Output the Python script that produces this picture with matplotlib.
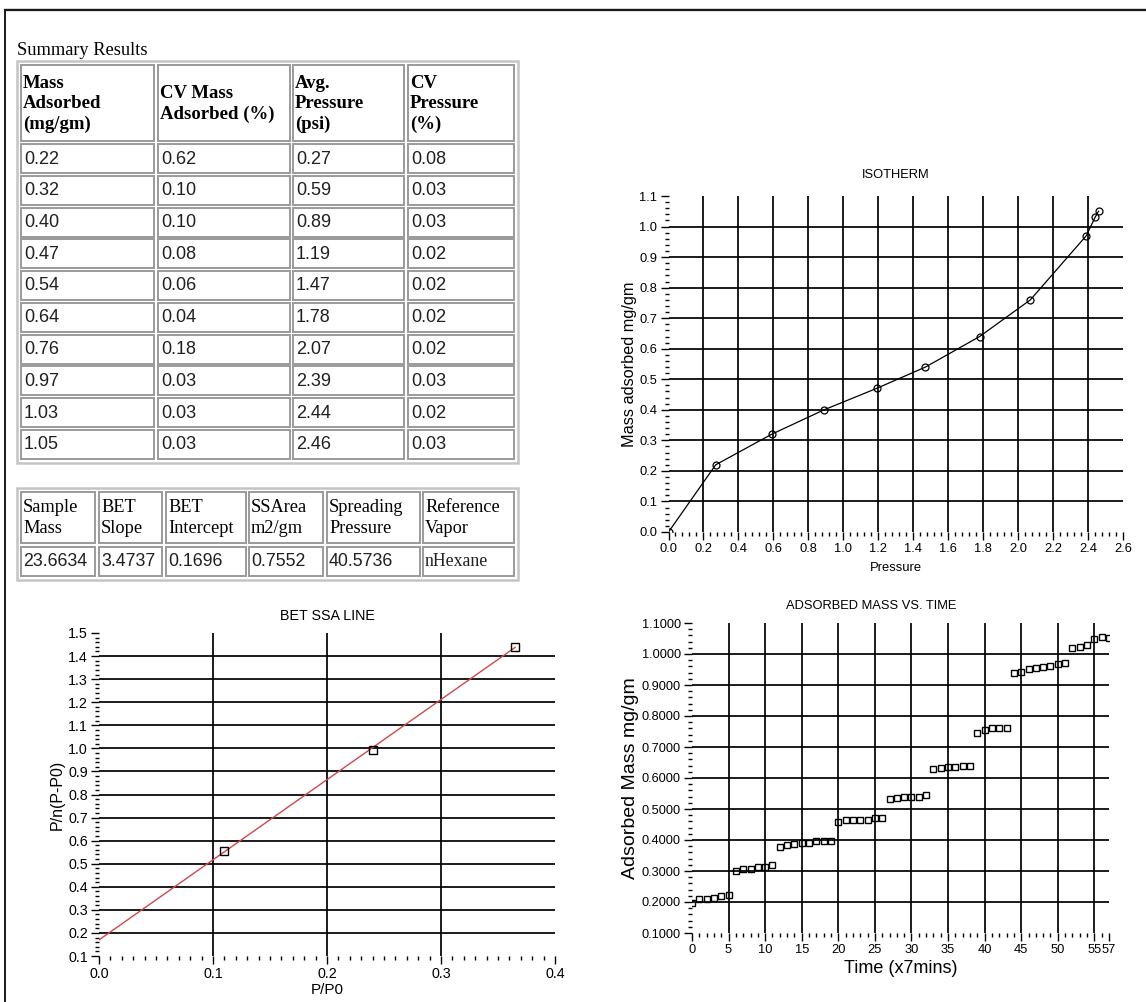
import matplotlib.pyplot as plt
import numpy as np
from matplotlib.patches import Rectangle
from matplotlib.ticker import MultipleLocator

SANS = 'Liberation Sans'
SERIF = 'Liberation Serif'

# Summary results table
mass_adsorbed = [0.22, 0.32, 0.40, 0.47, 0.54, 0.64, 0.76, 0.97, 1.03, 1.05]
cv_mass = [0.62, 0.10, 0.10, 0.08, 0.06, 0.04, 0.18, 0.03, 0.03, 0.03]
avg_pressure = [0.27, 0.59, 0.89, 1.19, 1.47, 1.78, 2.07, 2.39, 2.44, 2.46]
cv_pressure = [0.08, 0.03, 0.03, 0.02, 0.02, 0.02, 0.02, 0.03, 0.02, 0.03]
summary_headers = ['Mass\nAdsorbed\n(mg/gm)', 'CV Mass\nAdsorbed (%)',
                   'Avg.\nPressure\n(psi)', 'CV\nPressure\n(%)']

# BET parameters
bet_headers = ['Sample\nMass', 'BET\nSlope', 'BET\nIntercept', 'SSArea\nm2/gm',
               'Spreading\nPressure', 'Reference\nVapor']
sample_mass = 23.6634
bet_slope = 3.4737
bet_intercept = 0.1696
ss_area = 0.7552
spreading_pressure = 40.5736
reference_vapor = 'nHexane'

# BET line points
p_p0 = [0.11, 0.24, 0.365]
bet_y = [0.555, 0.995, 1.44]

# adsorbed mass per 7 minute interval
time_steps = list(range(58))
mass_vs_time = [0.197, 0.209, 0.209, 0.213, 0.218, 0.222,
                0.301, 0.305, 0.305, 0.314, 0.314, 0.318,
                0.379, 0.384, 0.388, 0.391, 0.391, 0.396, 0.396, 0.396,
                0.458, 0.463, 0.463, 0.466, 0.466, 0.471, 0.471,
                0.532, 0.536, 0.540, 0.540, 0.540, 0.545,
                0.628, 0.633, 0.636, 0.636, 0.640, 0.640,
                0.746, 0.755, 0.760, 0.760, 0.762,
                0.938, 0.942, 0.951, 0.955, 0.959, 0.961, 0.968, 0.972,
                1.020, 1.024, 1.029, 1.047, 1.056, 1.051]

W, H = 1146, 1002
fig = plt.figure(figsize=(W / 100, H / 100), dpi=100)
fig.patch.set_facecolor('white')

# page layer in pixel units
bg = fig.add_axes([0, 0, 1, 1])
bg.set_xlim(0, W)
bg.set_ylim(H, 0)
bg.axis('off')

bg.plot([5, W], [8.5, 8.5], color='#a0a0a0', lw=1.0)
bg.plot([5, W], [10, 10], color='#1a1a1a', lw=1.6)
bg.plot([5, 5], [10, H], color='#1a1a1a', lw=1.4)


def cell(x0, y0, x1, y1):
    bg.add_patch(Rectangle((x0, y0), x1 - x0, y1 - y0, fill=False,
                           edgecolor='#9a9a9a', lw=1.4))


def outer(x0, y0, x1, y1):
    bg.add_patch(Rectangle((x0, y0), x1 - x0, y1 - y0, fill=False,
                           edgecolor='#c4c4c4', lw=1.8))


bg.text(17, 50, 'Summary Results', family=SERIF, fontsize=13.2,
        va='center', ha='left')

# summary table
outer(17, 61, 518, 463)
cols1 = [(21, 154), (158, 290), (293, 404), (408, 514)]
for (x0, x1), head in zip(cols1, summary_headers):
    cell(x0, 65, x1, 141)
    bg.text(x0 + 2, 104, head, family=SERIF, fontsize=13.5, weight='bold',
            va='center', ha='left', linespacing=1.22)
columns = [mass_adsorbed, cv_mass, avg_pressure, cv_pressure]
for i in range(len(mass_adsorbed)):
    top = 144 + 31.75 * i
    for (x0, x1), col in zip(cols1, columns):
        cell(x0, top, x1, top + 29)
        bg.text(x0 + 3, top + 15, f'{col[i]:.2f}', family=SANS, fontsize=13,
                va='center', ha='left', color='#202020')

# BET summary table
outer(17, 488, 518, 580)
cols2 = [(21, 95), (99, 162), (166, 246), (249, 323), (327, 420), (423, 514)]
bet_values = [f'{sample_mass:.4f}', f'{bet_slope:.4f}', f'{bet_intercept:.4f}',
              f'{ss_area:.4f}', f'{spreading_pressure:.4f}', reference_vapor]
for (x0, x1), head, val in zip(cols2, bet_headers, bet_values):
    cell(x0, 492, x1, 543)
    cell(x0, 547, x1, 576)
    bg.text(x0 + 2, 518, head, family=SERIF, fontsize=13.2,
            va='center', ha='left', linespacing=1.3)
    fam = SERIF if val == reference_vapor else SANS
    bg.text(x0 + 2, 562, val, family=fam, fontsize=12.8,
            va='center', ha='left', color='#202020')


def frame_axes(rect_px):
    x0, y0, x1, y1 = rect_px
    ax = fig.add_axes([x0 / W, 1 - y1 / H, (x1 - x0) / W, (y1 - y0) / H])
    ax.set_facecolor('none')
    for s in ax.spines.values():
        s.set_visible(False)
    ax.xaxis.set_ticks_position('bottom')
    ax.yaxis.set_ticks_position('left')
    ax.tick_params(which='major', direction='out', length=6, width=1.0,
                   color='black', pad=2)
    ax.tick_params(which='minor', direction='out', length=3, width=1.0,
                   color='black')
    return ax


def inner_grid(ax, xticks, yticks):
    for v in xticks[1:-1]:
        ax.axvline(v, color='black', lw=1.25, zorder=1)
    for v in yticks[1:-1]:
        ax.axhline(v, color='black', lw=1.25, zorder=1)


# ISOTHERM
ax1 = frame_axes((668.5, 196, 1123, 532))
iso_x = [0.0] + avg_pressure
iso_y = [0.0] + mass_adsorbed
ax1.plot(iso_x, iso_y, color='black', lw=0.9, marker='o', ms=5,
         mfc='none', mec='black', mew=0.9, zorder=3)
ax1.set_xlim(0, 2.6)
ax1.set_ylim(0, 1.1)
iso_xt = np.round(np.arange(0, 2.61, 0.2), 1)
iso_yt = np.round(np.arange(0, 1.11, 0.1), 1)
ax1.set_xticks(iso_xt)
ax1.set_yticks(iso_yt)
ax1.set_xticklabels([f'{v:.1f}' for v in iso_xt], family=SANS, fontsize=9.3)
ax1.set_yticklabels([f'{v:.1f}' for v in iso_yt], family=SANS, fontsize=9.3)
ax1.xaxis.set_minor_locator(MultipleLocator(0.04))
ax1.yaxis.set_minor_locator(MultipleLocator(0.02))
inner_grid(ax1, iso_xt, iso_yt)
ax1.set_title('ISOTHERM', family=SANS, fontsize=9.3, pad=13)
ax1.set_xlabel('Pressure', family=SANS, fontsize=9.4, labelpad=5)
ax1.set_ylabel('Mass adsorbed mg/gm', family=SANS, fontsize=11.7, labelpad=2)

# ADSORBED MASS VS. TIME
ax2 = frame_axes((692, 623, 1109, 933))
ax2.plot(time_steps, mass_vs_time, ls='none', marker='s', ms=5,
         mfc='none', mec='black', mew=1.0, zorder=3)
ax2.set_xlim(0, 57)
ax2.set_ylim(0.1, 1.1)
t_xt = list(range(0, 56, 5)) + [57]
t_yt = np.round(np.arange(0.1, 1.11, 0.1), 1)
ax2.set_xticks(t_xt)
ax2.set_yticks(t_yt)
ax2.set_xticklabels([str(v) for v in t_xt], family=SANS, fontsize=9.3)
ax2.set_yticklabels([f'{v:.4f}' for v in t_yt], family=SANS, fontsize=9.2)
ax2.xaxis.set_minor_locator(MultipleLocator(1))
ax2.yaxis.set_minor_locator(MultipleLocator(0.02))
inner_grid(ax2, t_xt, t_yt)
ax2.set_title('ADSORBED MASS VS. TIME', family=SANS, fontsize=9.3, pad=10,
              x=0.43)
ax2.set_xlabel('Time (x7mins)', family=SANS, fontsize=13, labelpad=3)
ax2.set_ylabel('Adsorbed Mass mg/gm', family=SANS, fontsize=14, labelpad=2)

# BET SSA LINE
ax3 = frame_axes((99, 633, 555, 956))
line_x = np.array([0.0, max(p_p0)])
ax3.plot(line_x, bet_slope * line_x + bet_intercept, color='#d04848',
         lw=1.0, zorder=2)
ax3.plot(p_p0, bet_y, ls='none', marker='s', ms=5.5, mfc='none',
         mec='black', mew=1.0, zorder=3)
ax3.set_xlim(0, 0.4)
ax3.set_ylim(0.1, 1.5)
b_xt = np.round(np.arange(0, 0.41, 0.1), 1)
b_yt = np.round(np.arange(0.1, 1.51, 0.1), 1)
ax3.set_xticks(b_xt)
ax3.set_yticks(b_yt)
ax3.set_xticklabels([f'{v:.1f}' for v in b_xt], family=SANS, fontsize=10.3)
ax3.set_yticklabels([f'{v:.1f}' for v in b_yt], family=SANS, fontsize=10.3)
ax3.xaxis.set_minor_locator(MultipleLocator(0.01))
ax3.yaxis.set_minor_locator(MultipleLocator(0.02))
inner_grid(ax3, b_xt, b_yt)
ax3.set_title('BET SSA LINE', family=SANS, fontsize=10.3, pad=9)
ax3.set_xlabel('P/P0', family=SANS, fontsize=11, labelpad=1)
ax3.set_ylabel('P/n(P-P0)', family=SANS, fontsize=11.5, labelpad=2)

fig.savefig('out.png', dpi=100, facecolor='white')
